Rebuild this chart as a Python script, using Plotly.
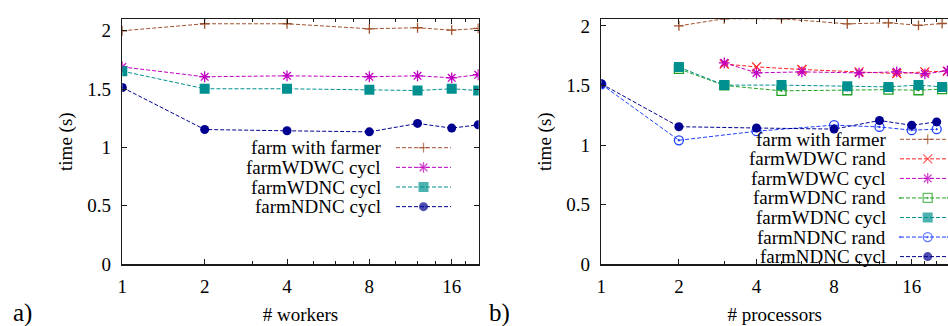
import math
import plotly.graph_objects as go

# ---------------- data ----------------
workers = [1, 2, 4, 8, 12, 16, 20]
procs_farmer = [2, 3, 5, 9, 13, 17, 21]
procs_wdwc = [3, 4, 6, 10, 14, 18, 22]
procs_wdnc = [2, 3, 5, 9, 13, 17, 21]
procs_ndnc = [1, 2, 4, 8, 12, 16, 20]

farm_with_farmer = [2.00, 2.06, 2.06, 2.017, 2.026, 2.005, 2.02]
farmWDWC_cycl = [1.69, 1.606, 1.614, 1.606, 1.614, 1.597, 1.623]
farmWDWC_rand = [1.68, 1.656, 1.634, 1.614, 1.600, 1.614, 1.620]
farmWDNC_cycl = [1.654, 1.503, 1.503, 1.494, 1.488, 1.503, 1.488]
farmWDNC_rand = [1.640, 1.500, 1.455, 1.460, 1.465, 1.460, 1.470]
farmNDNC_cycl = [1.514, 1.154, 1.143, 1.134, 1.206, 1.166, 1.194]
farmNDNC_rand = [1.510, 1.040, 1.116, 1.167, 1.152, 1.125, 1.133]

x_ticks = [1, 2, 4, 8, 16]
x_ticktext = ["1", "2", "4", "8", "16"]
x_minor = [3, 5, 6, 7, 10, 12, 14, 18, 20]
y_ticks = [0, 0.5, 1, 1.5, 2]
y_ticktext = ["0", "0.5", "1", "1.5", "2"]

# ---------------- styles ----------------
W, H = 948, 326
FONT = "Liberation Serif"
FS = 19
DASH = "4px,2px"

styles = {
    "farm with farmer": dict(color="#a0522d", symbol="cross-thin", size=7, open=True),
    "farmWDWC rand": dict(color="#ff2020", symbol="x-thin", size=9, open=True),
    "farmWDWC cycl": dict(color="#c000c0", symbol="asterisk", size=9, open=True),
    "farmWDNC rand": dict(color="#20a020", symbol="square-open-dot", size=9, open=True),
    "farmWDNC cycl": dict(color="#009090", symbol="square", size=10, open=False),
    "farmNDNC rand": dict(color="#2040ff", symbol="circle-open-dot", size=9, open=True),
    "farmNDNC cycl": dict(color="#000090", symbol="circle", size=9, open=False),
}


def marker_of(st, size=None):
    m = dict(symbol=st["symbol"], size=size if size is not None else st["size"], color=st["color"])
    if st["open"]:
        m["line"] = dict(color=st["color"], width=1.3)
    else:
        m["line"] = dict(color=st["color"], width=0)
    return m


left_series = [
    ("farm with farmer", workers, farm_with_farmer),
    ("farmWDWC cycl", workers, farmWDWC_cycl),
    ("farmWDNC cycl", workers, farmWDNC_cycl),
    ("farmNDNC cycl", workers, farmNDNC_cycl),
]
right_series = [
    ("farm with farmer", procs_farmer, farm_with_farmer),
    ("farmWDWC rand", procs_wdwc, farmWDWC_rand),
    ("farmWDWC cycl", procs_wdwc, farmWDWC_cycl),
    ("farmWDNC rand", procs_wdnc, farmWDNC_rand),
    ("farmWDNC cycl", procs_wdnc, farmWDNC_cycl),
    ("farmNDNC rand", procs_ndnc, farmNDNC_rand),
    ("farmNDNC cycl", procs_ndnc, farmNDNC_cycl),
]

fig = go.Figure()

for name, xs, ys in left_series:
    st = styles[name]
    fig.add_trace(go.Scatter(x=xs, y=ys, name=name, mode="lines+markers",
                             line=dict(color=st["color"], width=1, dash=DASH),
                             marker=marker_of(st), xaxis="x", yaxis="y",
                             showlegend=False, cliponaxis=True))
for name, xs, ys in right_series:
    st = styles[name]
    fig.add_trace(go.Scatter(x=xs, y=ys, name=name, mode="lines+markers",
                             line=dict(color=st["color"], width=1, dash=DASH),
                             marker=marker_of(st), xaxis="x2", yaxis="y2",
                             showlegend=False, cliponaxis=True))

# ---------------- gnuplot-style keys (pixel layout on an overlay axis) ----------------
annotations = []


def add_key(names, text_right, x0, x1, xm, row0, step):
    for i, name in enumerate(names):
        st = styles[name]
        yy = row0 + i * step
        fig.add_trace(go.Scatter(x=[x0, xm, x1], y=[yy, yy, yy], mode="lines+markers",
                                 line=dict(color=st["color"], width=1, dash=DASH),
                                 marker=dict(marker_of(st), size=[0, st["size"], 0]),
                                 xaxis="x3", yaxis="y3", showlegend=False,
                                 hoverinfo="skip", cliponaxis=False))
        annotations.append(dict(text=name, xref="paper", yref="paper",
                                x=text_right / W, y=1 - yy / H, xanchor="right",
                                yanchor="middle", showarrow=False,
                                font=dict(family=FONT, size=FS, color="black")))


add_key([s[0] for s in left_series], 383, 396, 451, 423.5, 147.7, 19.65)
add_key([s[0] for s in right_series], 887.5, 900, 948, 927.7, 139.3, 19.55)

annotations += [
    dict(text="a)", xref="paper", yref="paper", x=11 / W, y=1 - 313 / H,
         xanchor="left", yanchor="middle", showarrow=False,
         font=dict(family=FONT, size=25, color="black")),
    dict(text="b)", xref="paper", yref="paper", x=487 / W, y=1 - 313 / H,
         xanchor="left", yanchor="middle", showarrow=False,
         font=dict(family=FONT, size=25, color="black")),
]

ydom = [(H - 264.2) / H, (H - 19.1) / H]
axis_common = dict(showgrid=False, zeroline=False, showline=True, linecolor="#1a1a1a",
                   linewidth=1.5, ticks="inside", ticklen=5, tickwidth=1, tickcolor="#1a1a1a",
                   automargin=False,
                   tickfont=dict(family=FONT, size=FS, color="black"))

xa = dict(axis_common, type="log", tickmode="array", tickvals=x_ticks, ticktext=x_ticktext,
          mirror="ticks", ticklabelstandoff=4,
          minor=dict(tickmode="array", tickvals=x_minor, ticks="inside", ticklen=3,
                     tickcolor="#1a1a1a", tickwidth=1))

fig.update_layout(
    width=W, height=H,
    margin=dict(l=0, r=0, t=0, b=0, autoexpand=False),
    paper_bgcolor="white", plot_bgcolor="rgba(0,0,0,0)",
    showlegend=False,
    font=dict(family=FONT, size=FS, color="black"),
    xaxis=dict(xa, domain=[122.3 / W, 478.7 / W], range=[0, math.log10(20.08)],
               anchor="y",
               title=dict(text="# workers", standoff=12,
                          font=dict(family=FONT, size=FS, color="black"))),
    yaxis=dict(axis_common, domain=ydom, range=[0, 2.1], tickmode="array",
               tickvals=y_ticks, ticktext=y_ticktext, mirror="ticks", anchor="x",
               ticklabelstandoff=6,
               title=dict(text="time (s)", standoff=9,
                          font=dict(family=FONT, size=FS, color="black"))),
    xaxis2=dict(xa, domain=[601.3 / W, 1.0], range=[0, math.log10(22.13)],
                anchor="y2",
                title=dict(text="# processors", standoff=12,
                           font=dict(family=FONT, size=FS, color="black"))),
    yaxis2=dict(axis_common, domain=ydom, range=[0, 2.057], tickmode="array",
                tickvals=y_ticks, ticktext=y_ticktext, mirror=False, anchor="x2",
                ticklabelstandoff=6,
                title=dict(text="time (s)", standoff=9,
                           font=dict(family=FONT, size=FS, color="black"))),
    xaxis3=dict(domain=[0, 1], range=[0, W], visible=False, anchor="y3",
                fixedrange=True, automargin=False),
    yaxis3=dict(domain=[0, 1], range=[H, 0], visible=False, anchor="x3",
                fixedrange=True, automargin=False),
    annotations=annotations,
)

fig.write_html("out.html",
               config={"displayModeBar": False, "staticPlot": True},
               post_script="document.body.style.margin='0px';"
                           "document.body.style.overflow='hidden';")
